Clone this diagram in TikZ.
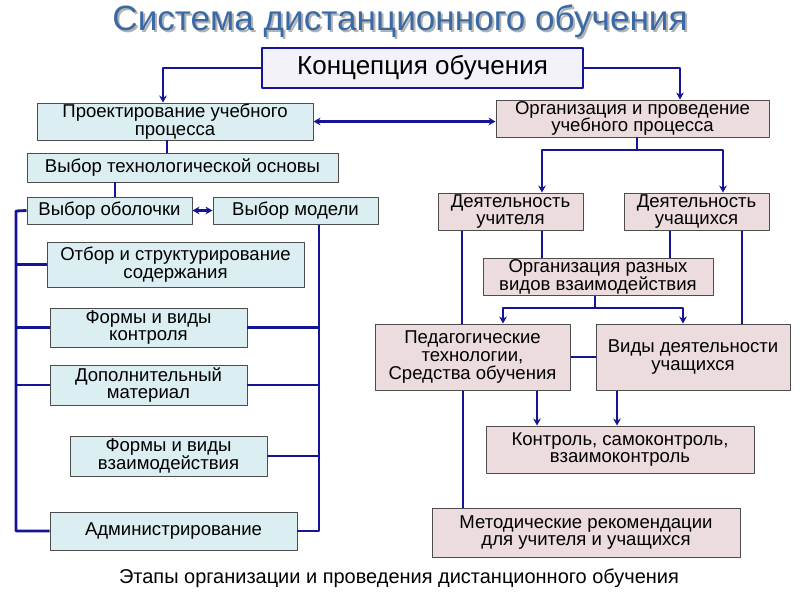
\documentclass[tikz,border=0pt]{standalone}
\usepackage{fontspec}
\setmainfont{Liberation Sans}
\usetikzlibrary{arrows.meta}
\definecolor{linie}{RGB}{20,20,150}
\definecolor{blau}{RGB}{219,238,241}
\definecolor{rosa}{RGB}{236,220,221}
\definecolor{titel}{RGB}{58,106,165}
\definecolor{konz}{RGB}{242,242,248}
\def\pxl{0.025cm}
\newcommand\kastenfont{\fontsize{13.2}{12.6}\selectfont\lineskiplimit=-5pt\relax}
\begin{document}
\begin{tikzpicture}[x=0.025cm,y=-0.025cm,line join=round,>={Stealth[length=5pt,width=5.5pt]},
		box/.style={draw=black!70,line width=0.7pt,align=center,inner sep=0pt,font=\kastenfont},
		lbox/.style={box,fill=blau},
		rbox/.style={box,fill=rosa},
		sz/.style 2 args={minimum width=#1*\pxl,minimum height=#2*\pxl},
		con/.style={draw=linie,line width=2pt}]
	\useasboundingbox (0,0) rectangle (800,600);
	\node[text=black!30,font=\fontsize{25}{25}\selectfont] (titelschatten) at (402,23) {Система дистанционного обучения};
	\node[text=titel,font=\fontsize{25}{25}\selectfont] (titel) at (400,21) {Система дистанционного обучения};
	\node[box,fill=konz,draw=linie,line width=2pt,font=\fontsize{18.5}{18.5}\selectfont,sz={321}{40}] (konz) at (422.5,68) {Концепция обучения};
	\node[lbox,sz={276}{37}] (proekt) at (175,121.5) {Проектирование учебного\\процесса};
	\node[rbox,sz={273}{37}] (org) at (632.5,118.5) {Организация и проведение\\учебного процесса};
	\node[lbox,sz={311}{29}] (tech) at (182.5,167.5) {Выбор технологической основы};
	\node[lbox,sz={165}{27}] (obol) at (109.5,210.5) {Выбор оболочки};
	\node[lbox,sz={165}{27}] (model) at (295.5,210.5) {Выбор модели};
	\node[lbox,sz={257}{45}] (otbor) at (175.5,264.5) {Отбор и структурирование\\содержания};
	\node[lbox,sz={197}{39}] (kontr) at (148.5,327.5) {Формы и виды\\контроля};
	\node[lbox,sz={197}{40}] (dop) at (148.5,385) {Дополнительный\\материал};
	\node[lbox,sz={197}{40}] (vzaim) at (168.5,456) {Формы и виды\\взаимодействия};
	\node[lbox,sz={247}{38}] (admin) at (173.5,531) {Администрирование};
	\node[rbox,sz={145}{37}] (uchit) at (510.5,211.5) {Деятельность\\учителя};
	\node[rbox,sz={145}{37}] (uchash) at (696.5,211.5) {Деятельность\\учащихся};
	\node[rbox,sz={230}{37}] (razn) at (598,276.5) {Организация разных\\видов взаимодействия};
	\node[rbox,sz={195}{66}] (ped) at (472.5,357) {Педагогические\\технологии,\\Средства обучения};
	\node[rbox,sz={194}{66}] (vidy) at (693,357) {Виды деятельности\\учащихся};
	\node[rbox,sz={268}{47}] (kontrol) at (620,449.5) {Контроль, самоконтроль,\\взаимоконтроль};
	\node[rbox,sz={308}{49}] (metod) at (586,532.5) {Методические рекомендации\\для учителя и учащихся};
	\node[font=\fontsize{14.2}{14.2}\selectfont] (etapy) at (399,578) {Этапы организации и проведения дистанционного обучения};
	
	\draw[con,->] (konz.west) -| (163,0 |- proekt.north);
	\draw[con,->] (konz.east) -| (680,0 |- org.north);
	\draw[con,<->] (proekt.east) -- (proekt.east -| org.west);
	\draw[con] (167,0 |- proekt.south) -- (167,0 |- tech.north);
	\draw[con] (115,0 |- tech.south) -- (115,0 |- obol.north);
	\draw[con,<->] (obol.east) -- (model.west);
	\coordinate (lt) at (16,211);
	\coordinate (lb) at (16,531);
	\draw[con] (obol.west) -- (lt) -- (lb) -- (admin.west);
	\foreach \n in {otbor,kontr,dop}
	\draw[con] (\n.west) -- (\n.west -| lt);
	\coordinate (rt) at (319,224);
	\coordinate (rb) at (319,531);
	\draw[con] (model.south -| rt) -- (rb) -- (admin.east);
	\foreach \n in {kontr,dop,vzaim}
	\draw[con] (\n.east) -- (\n.east -| rt);
	
	\coordinate (os) at (637,150);
	\draw[con] (os |- org.south) -- (os);
	\draw[con,->] (os) -| (542,0 |- uchit.north);
	\draw[con,->] (os) -| (723,0 |- uchash.north);
	\foreach \x/\a/\b in {542/uchit/razn,670/uchash/razn,462/uchit/ped,742/uchash/vidy,463/ped/metod}
	\draw[con] (\x,0 |- \a.south) -- (\x,0 |- \b.north);
	\coordinate (rs) at (595,308);
	\draw[con] (rs |- razn.south) -- (rs);
	\draw[con,->] (rs) -| (503,0 |- ped.north);
	\draw[con,->] (rs) -| (683,0 |- vidy.north);
	\draw[con] (ped.east) -- (vidy.west);
	\foreach \x/\a in {537/ped,617/vidy}
	\draw[con,->] (\x,0 |- \a.south) -- (\x,0 |- kontrol.north);
\end{tikzpicture}
\end{document}
